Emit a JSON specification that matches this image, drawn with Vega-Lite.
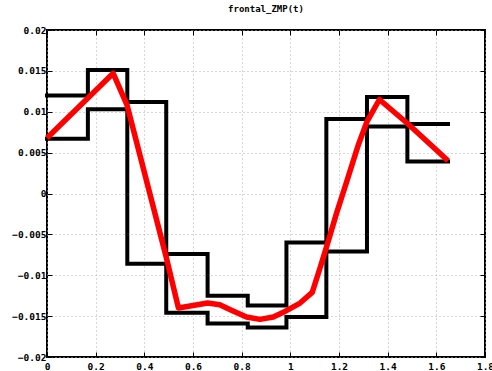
{
  "$schema": "https://vega.github.io/schema/vega-lite/v6.json",
  "width": 438,
  "height": 327,
  "autosize": {"type": "none"},
  "padding": {"left": 47, "top": 30, "right": 7, "bottom": 14},
  "background": "white",
  "title": {"text": "frontal_ZMP(t)", "font": "DejaVu Sans Mono", "fontSize": 9, "fontWeight": "bold", "color": "black", "offset": 11, "anchor": "middle"},
  "config": {
    "view": {"stroke": "black", "strokeWidth": 2},
    "axis": {
      "labelFont": "DejaVu Sans Mono", "labelFontSize": 9.5, "labelFontWeight": "bold", "labelColor": "black",
      "domain": false, "tickColor": "black", "tickSize": -5, "tickWidth": 1,
      "grid": true, "gridColor": "#b0b0b0", "gridDash": [1, 3], "gridWidth": 1,
      "title": null, "format": "~g"
    }
  },
  "datasets": {
    "steps": [
      {"t": 0, "v": 0.0120, "s": "upper"},
      {"t": 0.168, "v": 0.0151, "s": "upper"},
      {"t": 0.33, "v": 0.0112, "s": "upper"},
      {"t": 0.49, "v": -0.0074, "s": "upper"},
      {"t": 0.66, "v": -0.0125, "s": "upper"},
      {"t": 0.825, "v": -0.0137, "s": "upper"},
      {"t": 0.984, "v": -0.0060, "s": "upper"},
      {"t": 1.148, "v": 0.0091, "s": "upper"},
      {"t": 1.315, "v": 0.0118, "s": "upper"},
      {"t": 1.481, "v": 0.0039, "s": "upper"},
      {"t": 1.648, "v": 0.0039, "s": "upper"},
      {"t": 0, "v": 0.0067, "s": "lower"},
      {"t": 0.168, "v": 0.0103, "s": "lower"},
      {"t": 0.33, "v": -0.0086, "s": "lower"},
      {"t": 0.49, "v": -0.0146, "s": "lower"},
      {"t": 0.66, "v": -0.0159, "s": "lower"},
      {"t": 0.825, "v": -0.0164, "s": "lower"},
      {"t": 0.984, "v": -0.0151, "s": "lower"},
      {"t": 1.148, "v": -0.0071, "s": "lower"},
      {"t": 1.315, "v": 0.0082, "s": "lower"},
      {"t": 1.481, "v": 0.0085, "s": "lower"},
      {"t": 1.648, "v": 0.0085, "s": "lower"}
    ],
    "zmp": [
      {"t": 0, "v": 0.0068},
      {"t": 0.272, "v": 0.0147},
      {"t": 0.329, "v": 0.0108},
      {"t": 0.49, "v": -0.0078},
      {"t": 0.54, "v": -0.0140},
      {"t": 0.60, "v": -0.0137},
      {"t": 0.66, "v": -0.0134},
      {"t": 0.71, "v": -0.0136},
      {"t": 0.76, "v": -0.0143},
      {"t": 0.82, "v": -0.0151},
      {"t": 0.875, "v": -0.0154},
      {"t": 0.93, "v": -0.0151},
      {"t": 0.98, "v": -0.0144},
      {"t": 1.04, "v": -0.0134},
      {"t": 1.09, "v": -0.0121},
      {"t": 1.12, "v": -0.0093},
      {"t": 1.15, "v": -0.0064},
      {"t": 1.19, "v": -0.0024},
      {"t": 1.23, "v": 0.0013},
      {"t": 1.28, "v": 0.0060},
      {"t": 1.315, "v": 0.0088},
      {"t": 1.366, "v": 0.0115},
      {"t": 1.484, "v": 0.0085},
      {"t": 1.648, "v": 0.0040}
    ]
  },
  "layer": [
    {
      "data": {"name": "steps"},
      "mark": {"type": "line", "interpolate": "step-after", "color": "black", "strokeWidth": 4, "strokeJoin": "miter", "strokeCap": "square"},
      "encoding": {
        "x": {"field": "t", "type": "quantitative", "scale": {"domain": [0, 1.8], "nice": false, "zero": false},
              "axis": {"orient": "bottom", "values": [0, 0.2, 0.4, 0.6, 0.8, 1, 1.2, 1.4, 1.6, 1.8], "labelPadding": 9, "labelFlush": false, "labelOverlap": false}},
        "y": {"field": "v", "type": "quantitative", "scale": {"domain": [-0.02, 0.02], "nice": false, "zero": false},
              "axis": {"orient": "left", "values": [-0.02, -0.015, -0.01, -0.005, 0, 0.005, 0.01, 0.015, 0.02], "labelPadding": 6, "labelFlush": false, "labelOverlap": false}},
        "detail": {"field": "s", "type": "nominal"}
      }
    },
    {
      "data": {"name": "zmp"},
      "mark": {"type": "line", "color": "red", "strokeWidth": 5.5, "strokeJoin": "round"},
      "encoding": {
        "x": {"field": "t", "type": "quantitative", "scale": {"domain": [0, 1.8], "nice": false, "zero": false},
              "axis": {"orient": "top", "labels": false, "grid": false, "values": [0, 0.2, 0.4, 0.6, 0.8, 1, 1.2, 1.4, 1.6, 1.8]}},
        "y": {"field": "v", "type": "quantitative", "scale": {"domain": [-0.02, 0.02], "nice": false, "zero": false},
              "axis": {"orient": "right", "labels": false, "grid": false, "values": [-0.02, -0.015, -0.01, -0.005, 0, 0.005, 0.01, 0.015, 0.02]}}
      }
    }
  ],
  "resolve": {"axis": {"x": "independent", "y": "independent"}}
}
